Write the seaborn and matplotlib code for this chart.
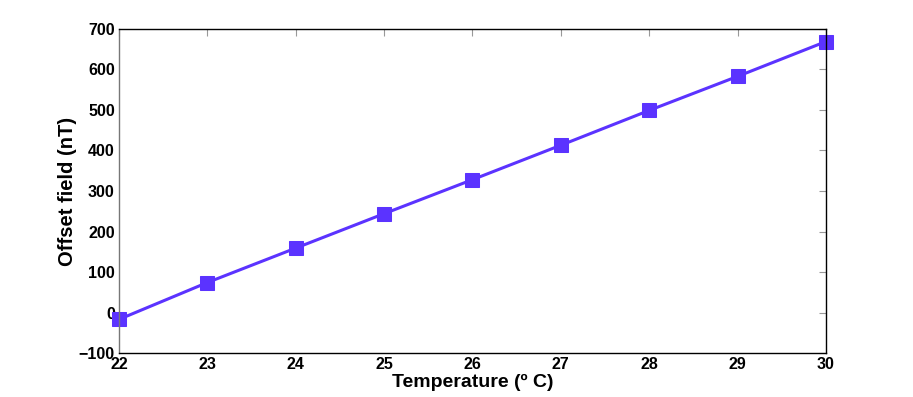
import matplotlib
matplotlib.use("Agg")
import matplotlib.pyplot as plt
import pandas as pd
import seaborn as sns

# 読み取った値
temperature = [22, 23, 24, 25, 26, 27, 28, 29, 30]
offset_field = [-17, 74, 159, 244, 328, 413, 499, 583, 669]
x_ticks = [22, 23, 24, 25, 26, 27, 28, 29, 30]
y_ticks = [-100, 0, 100, 200, 300, 400, 500, 600, 700]

sns.set_style("white")
plt.rcParams["font.family"] = ["Liberation Sans", "DejaVu Sans"]
plt.rcParams["font.weight"] = "bold"
plt.rcParams["text.color"] = "black"
plt.rcParams["axes.labelcolor"] = "black"
plt.rcParams["xtick.labelcolor"] = "black"
plt.rcParams["ytick.labelcolor"] = "black"

df = pd.DataFrame({"temp": temperature, "offset": offset_field})

fig = plt.figure(figsize=(9.13, 3.97), dpi=100)
ax = fig.add_axes([0.1303, 0.1108, 0.7744, 0.8162])

color = "#5B33FF"
sns.lineplot(data=df, x="temp", y="offset", ax=ax, color=color,
             linewidth=2.2, marker="s", markersize=10,
             markeredgecolor=color, clip_on=False)

ax.set_xlim(22, 30)
ax.set_ylim(-100, 700)
ax.set_xticks(x_ticks)
ax.set_yticks(y_ticks)
ax.set_xticklabels([str(v) for v in x_ticks], fontsize=11.5, fontweight="bold")
ax.set_yticklabels([str(v).replace("-", "\u2212") for v in y_ticks],
                   fontsize=11.5, fontweight="bold")
ax.tick_params(direction="in", length=5, width=0.8, color="#999999",
               top=True, right=True, pad=3)
for side in ["top", "right", "bottom"]:
    ax.spines[side].set_color("black")
    ax.spines[side].set_linewidth(1.0)
ax.spines["left"].set_color("#777777")
ax.spines["left"].set_linewidth(1.0)

ax.set_xlabel("Temperature (º C)", fontsize=14, fontweight="bold", labelpad=1)
ax.set_ylabel("Offset field (nT)", fontsize=14.5, fontweight="bold", labelpad=1)

fig.savefig("out.png", dpi=100)
